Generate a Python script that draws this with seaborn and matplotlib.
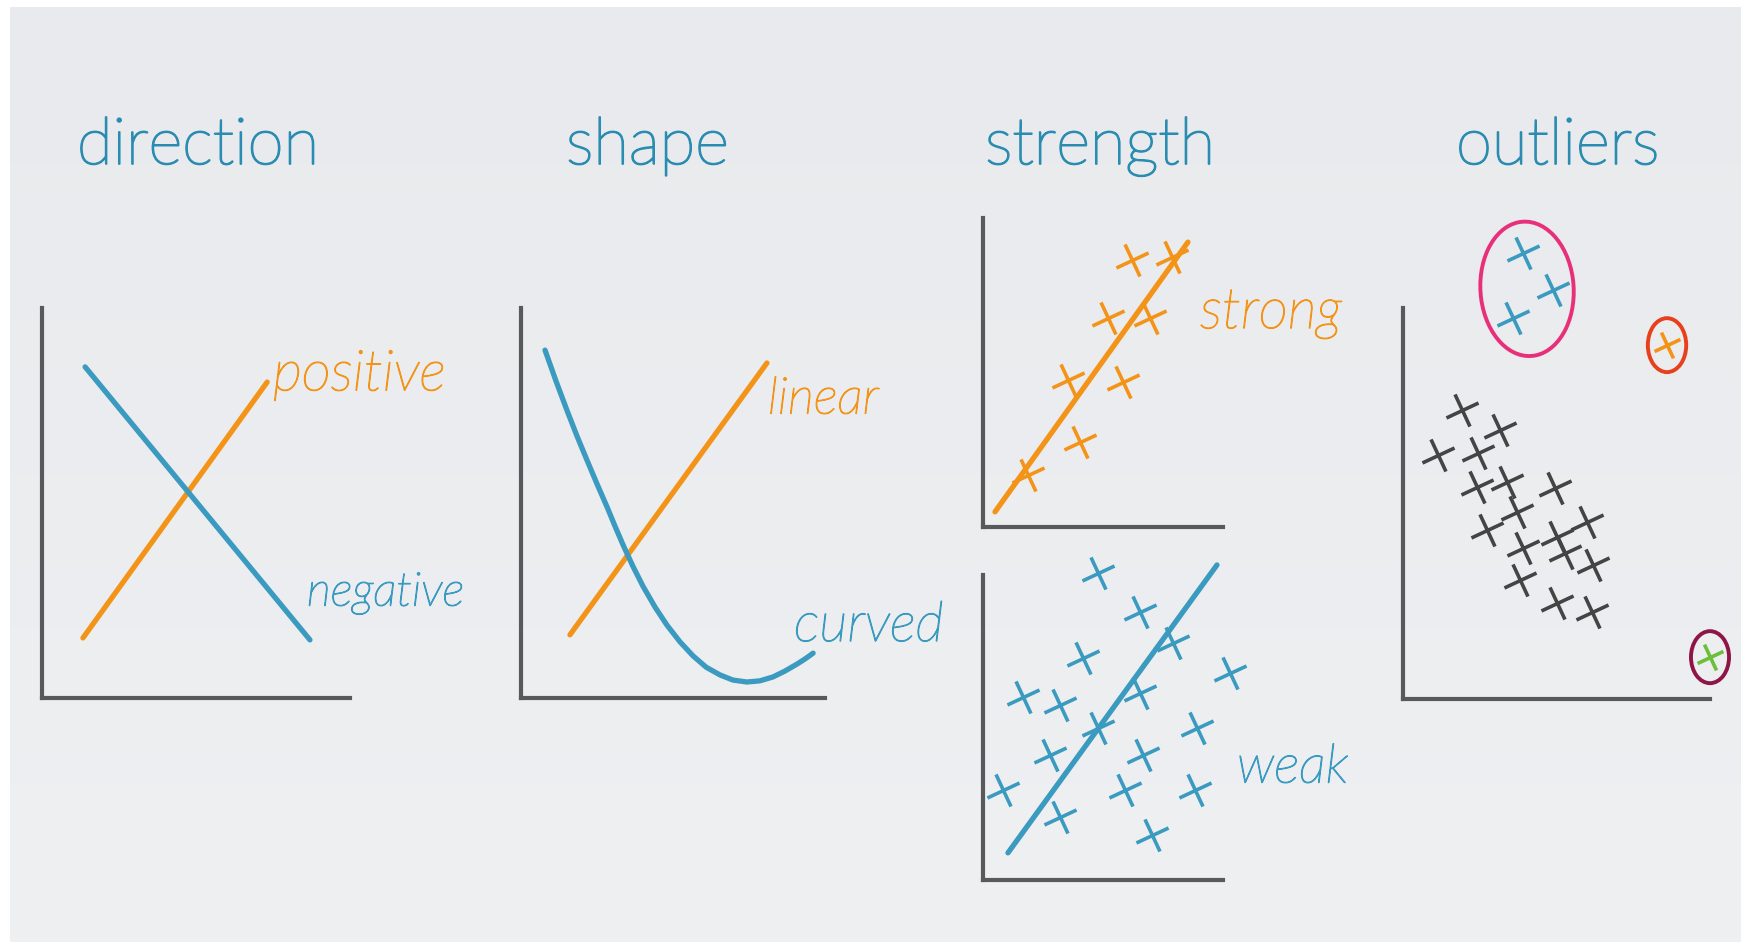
import numpy as np
import matplotlib.pyplot as plt
import matplotlib.patheffects as pe
from matplotlib.markers import MarkerStyle
from matplotlib.patches import Ellipse
from matplotlib.transforms import Affine2D
import seaborn as sns

sns.set_theme(style="white")
plt.rcParams['font.family'] = ['Lato', 'DejaVu Sans']

W, H = 1741, 942

# titles
titulos = ["direction", "shape", "strength", "outliers"]
titulos_x = [77, 566, 985, 1456]

# direction
pos_x = [1.33, 7.31]
pos_y = [1.54, 8.10]
neg_x = [1.40, 8.70]
neg_y = [8.49, 1.49]

# shape
lin_x = [1.61, 8.09]
lin_y = [1.62, 8.59]
curva_x = [0.79, 1.15, 1.51, 1.84, 2.17, 2.50, 2.83, 3.09, 3.36, 3.68, 4.01, 4.41, 4.80,
           5.23, 5.66, 6.09, 6.55, 6.97, 7.43, 7.86, 8.29, 8.68, 9.08, 9.34, 9.61]
curva_y = [8.92, 8.13, 7.38, 6.72, 6.10, 5.49, 4.90, 4.41, 3.92, 3.38, 2.87, 2.33, 1.87,
           1.44, 1.08, 0.79, 0.59, 0.46, 0.41, 0.44, 0.54, 0.69, 0.87, 1.00, 1.15]

# strength - strong
fuerte_linea_x = [0.50, 8.54]
fuerte_linea_y = [0.49, 9.22]
fuerte_x = [6.21, 7.88, 5.21, 6.96, 3.54, 5.83, 4.04, 1.88]
fuerte_y = [8.64, 8.74, 6.76, 6.76, 4.76, 4.69, 2.75, 1.68]

# strength - weak
debil_linea_x = [1.04, 9.75]
debil_linea_y = [0.89, 10.33]
debil_x = [4.79, 6.54, 4.17, 7.92, 10.29, 1.67, 3.21, 6.54, 4.79, 8.92,
           2.79, 6.67, 0.83, 5.92, 8.83, 3.21, 7.04]
debil_y = [10.07, 8.79, 7.28, 7.77, 6.79, 6.00, 5.74, 6.13, 4.98, 4.98,
           4.10, 4.10, 2.95, 2.95, 2.95, 2.07, 1.48]

# outliers
nube_x = [1.92, 3.16, 1.14, 2.44, 2.41, 3.39, 4.95, 3.71, 2.74, 5.99,
          5.02, 3.91, 5.28, 6.19, 3.81, 5.02, 6.16]
nube_y = [7.39, 6.88, 6.24, 6.29, 5.42, 5.55, 5.40, 4.78, 4.32, 4.53,
          4.14, 3.86, 3.73, 3.43, 3.04, 2.46, 2.23]
grupo_x = [3.91, 4.89, 3.58]
grupo_y = [11.41, 10.46, 9.74]
atipico_naranja = (8.60, 9.05)
atipico_verde = (10.0, 1.07)

TEAL = "#2a8cb0"
AZUL = "#3a9ac0"
NARANJA = "#f39419"
GRIS = "#58595b"

cruz = MarkerStyle("+", transform=Affine2D().rotate_deg(25))


def panel(fig, x0, x1, ytop, ybot):
    ax = fig.add_axes([x0 / W, 1 - ybot / H, (x1 - x0) / W, (ybot - ytop) / H])
    ax.set_facecolor("none")
    ax.set_xlim(0, 10)
    ax.set_ylim(0, 10)
    ax.set_xticks([])
    ax.set_yticks([])
    for s in ["top", "right"]:
        ax.spines[s].set_visible(False)
    for s in ["left", "bottom"]:
        ax.spines[s].set_color(GRIS)
        ax.spines[s].set_linewidth(3)
    return ax


def linea(ax, x, y, color):
    sns.lineplot(x=x, y=y, ax=ax, color=color, lw=3.8,
                 solid_joinstyle="round", solid_capstyle="round")
    for l in ax.lines:
        l.set_clip_on(False)


def cruces(ax, x, y, color, size=650):
    sns.scatterplot(x=x, y=y, ax=ax, marker=cruz, s=size, color=color,
                    linewidth=2.6, clip_on=False, zorder=3)


def etiqueta(ax, x, y, texto, color, size=38):
    ax.text(x, y, texto, color=color, fontsize=size, style="italic", fontweight="light",
            ha="left", va="center", clip_on=False,
            path_effects=[pe.withStroke(linewidth=0.9, foreground=color)])


fig = plt.figure(figsize=(W / 100, H / 100), dpi=100)
fig.patch.set_facecolor("white")

# fondo gris con leve degradado
bg = fig.add_axes([10 / W, 0, 1 - 10 / W, 1 - 7 / H])
grad = np.linspace(0, 1, 256).reshape(-1, 1)
bg.imshow(grad, aspect="auto", cmap=sns.blend_palette(["#e8eaed", "#eff0f2"], as_cmap=True),
          extent=[0, 1, 0, 1])
bg.axis("off")

for t, x in zip(titulos, titulos_x):
    fig.text(x / W, 1 - 164 / H, t, color=TEAL, fontsize=47, fontweight="light",
             ha="left", va="baseline",
             path_effects=[pe.withStroke(linewidth=1.3, foreground=TEAL)])

# direction
ax1 = panel(fig, 42, 350, 308, 698)
linea(ax1, pos_x, pos_y, NARANJA)
linea(ax1, neg_x, neg_y, AZUL)
etiqueta(ax1, 7.50, 8.28, "positive", NARANJA, 41)
etiqueta(ax1, 8.60, 2.69, "negative", AZUL, 34)

# shape
ax2 = panel(fig, 521, 825, 308, 698)
linea(ax2, lin_x, lin_y, NARANJA)
linea(ax2, curva_x, curva_y, AZUL)
etiqueta(ax2, 8.12, 7.64, "linear", NARANJA, 37)
etiqueta(ax2, 8.98, 1.85, "curved", AZUL, 40)

# strength
ax3 = panel(fig, 983, 1223, 218, 527)
linea(ax3, fuerte_linea_x, fuerte_linea_y, NARANJA)
cruces(ax3, fuerte_x, fuerte_y, NARANJA)
etiqueta(ax3, 9.04, 6.93, "strong", NARANJA, 41)

ax4 = panel(fig, 983, 1223, 575, 880)
linea(ax4, debil_linea_x, debil_linea_y, AZUL)
cruces(ax4, debil_x, debil_y, AZUL)
etiqueta(ax4, 10.58, 3.67, "weak", AZUL, 39)

# outliers
ax5 = panel(fig, 1403, 1710, 308, 699)
cruces(ax5, nube_x, nube_y, "#444444")
cruces(ax5, grupo_x, grupo_y, AZUL)
cruces(ax5, [atipico_naranja[0]], [atipico_naranja[1]], NARANJA, 420)
cruces(ax5, [atipico_verde[0]], [atipico_verde[1]], "#6cbf3a", 420)
ax5.add_patch(Ellipse((4.04, 10.49), 3.03, 3.45, angle=10, fill=False,
                      edgecolor="#e8307a", lw=2.8, clip_on=False))
ax5.add_patch(Ellipse(atipico_naranja, 1.25, 1.38, fill=False,
                      edgecolor="#e8401c", lw=2.8, clip_on=False))
ax5.add_patch(Ellipse(atipico_verde, 1.24, 1.33, fill=False,
                      edgecolor="#8e1548", lw=2.8, clip_on=False))

fig.savefig("out.png", dpi=100, facecolor=fig.get_facecolor())
